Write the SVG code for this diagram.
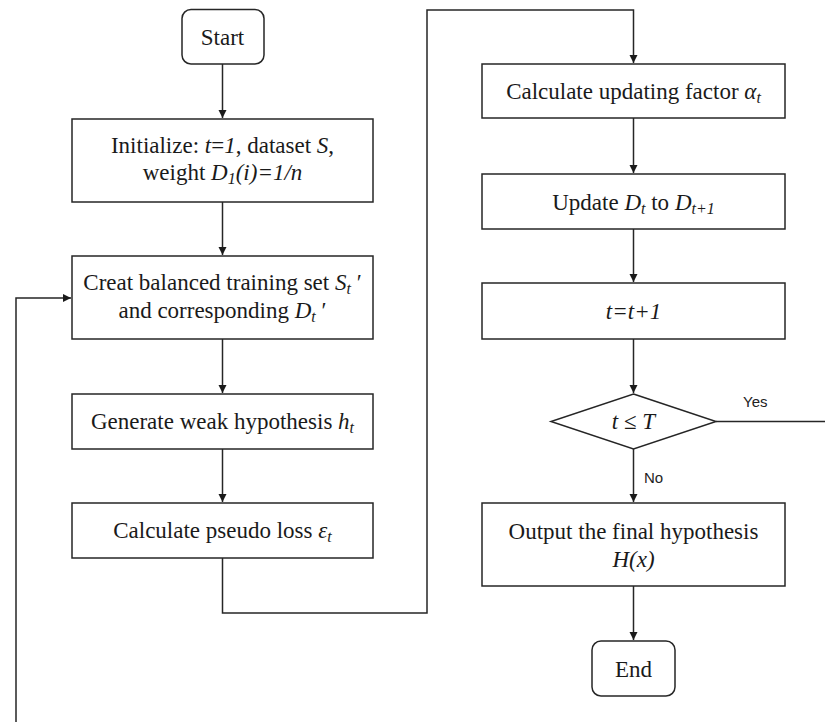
<svg xmlns="http://www.w3.org/2000/svg" width="825" height="722" viewBox="0 0 825 722">
<defs>
<style>
.box{fill:#fff;stroke:#262626;stroke-width:1.5}
.t{font-family:"Liberation Serif","Times New Roman",serif;font-size:23px;fill:#1a1a1a;text-anchor:middle}
.i{font-style:italic}
.s{font-size:16px;font-style:italic}
.lbl{font-family:"Liberation Sans",Arial,sans-serif;font-size:15px;fill:#222}
.c{fill:none;stroke:#262626;stroke-width:1.5}
</style>
<marker id="ah" markerWidth="10" markerHeight="10" refX="8" refY="4" orient="auto" markerUnits="userSpaceOnUse">
<path d="M0,0 L8,4 L0,8 Z" fill="#1a1a1a"/>
</marker>
</defs>
<rect width="825" height="722" fill="#fff"/>
<g id="connectors">
<line class="c" x1="222.5" y1="64" x2="222.5" y2="118" marker-end="url(#ah)"/>
<line class="c" x1="222.5" y1="202" x2="222.5" y2="255" marker-end="url(#ah)"/>
<line class="c" x1="222.5" y1="339" x2="222.5" y2="393" marker-end="url(#ah)"/>
<line class="c" x1="222.5" y1="449" x2="222.5" y2="502" marker-end="url(#ah)"/>
<polyline class="c" points="222.5,558 222.5,613 427,613 427,10 633.5,10 633.5,63" marker-end="url(#ah)"/>
<line class="c" x1="633.5" y1="118" x2="633.5" y2="173" marker-end="url(#ah)"/>
<line class="c" x1="633.5" y1="229" x2="633.5" y2="282" marker-end="url(#ah)"/>
<line class="c" x1="633.5" y1="339" x2="633.5" y2="393" marker-end="url(#ah)"/>
<line class="c" x1="633.5" y1="449" x2="633.5" y2="502" marker-end="url(#ah)"/>
<line class="c" x1="633.5" y1="586" x2="633.5" y2="640" marker-end="url(#ah)"/>
<line class="c" x1="716" y1="421.5" x2="825" y2="421.5"/>
<polyline class="c" points="16,722 16,298 71,298" marker-end="url(#ah)"/>
<text class="lbl" x="743" y="407">Yes</text>
<text class="lbl" x="644" y="483">No</text>
</g>
<g id="start">
<rect class="box" x="182" y="9.5" width="82" height="54.5" rx="9"/>
<text class="t" x="222.5" y="45">Start</text>
</g>
<g id="init">
<rect class="box" x="72" y="119" width="301" height="83"/>
<text class="t" x="222.5" y="153">Initialize: <tspan class="i">t</tspan>=<tspan class="i">1</tspan>, dataset <tspan class="i">S</tspan>,</text>
<text class="t" x="222.5" y="180">weight <tspan class="i">D</tspan><tspan class="s" dy="4">1</tspan><tspan class="i" dy="-4">(i)=1/n</tspan></text>
</g>
<g id="creat">
<rect class="box" x="72" y="256" width="301" height="83"/>
<text class="t" x="222.5" y="290">Creat balanced training set <tspan class="i">S</tspan><tspan class="s" dy="4">t</tspan><tspan dy="-4"> ′</tspan></text>
<text class="t" x="222.5" y="318">and corresponding <tspan class="i">D</tspan><tspan class="s" dy="4">t</tspan><tspan dy="-4"> ′</tspan></text>
</g>
<g id="generate">
<rect class="box" x="72" y="394" width="301" height="55"/>
<text class="t" x="222.5" y="429">Generate weak hypothesis <tspan class="i">h</tspan><tspan class="s" dy="4">t</tspan></text>
</g>
<g id="pseudo">
<rect class="box" x="72" y="503" width="301" height="55"/>
<text class="t" x="222.5" y="538">Calculate pseudo loss <tspan class="i">ε</tspan><tspan class="s" dy="4">t</tspan></text>
</g>
<g id="alpha">
<rect class="box" x="482" y="64" width="303" height="54"/>
<text class="t" x="633.5" y="99">Calculate updating factor <tspan class="i">α</tspan><tspan class="s" dy="4">t</tspan></text>
</g>
<g id="update">
<rect class="box" x="482" y="174" width="303" height="55"/>
<text class="t" x="633.5" y="210">Update <tspan class="i">D</tspan><tspan class="s" dy="4">t</tspan><tspan dy="-4"> to </tspan><tspan class="i">D</tspan><tspan class="s" dy="4">t+1</tspan></text>
</g>
<g id="incr">
<rect class="box" x="482" y="283" width="303" height="56"/>
<text class="t i" x="633.5" y="319">t=t+1</text>
</g>
<g id="decision">
<polygon class="box" points="633.5,394 716,421.5 633.5,449 551,421.5"/>
<text class="t" x="633.5" y="429"><tspan class="i">t</tspan> ≤ <tspan class="i">T</tspan></text>
</g>
<g id="output">
<rect class="box" x="482" y="503" width="303" height="83"/>
<text class="t" x="633.5" y="539">Output the final hypothesis</text>
<text class="t i" x="633.5" y="567">H(x)</text>
</g>
<g id="end">
<rect class="box" x="592" y="641" width="83" height="55" rx="9"/>
<text class="t" x="633.5" y="677">End</text>
</g>
</svg>
